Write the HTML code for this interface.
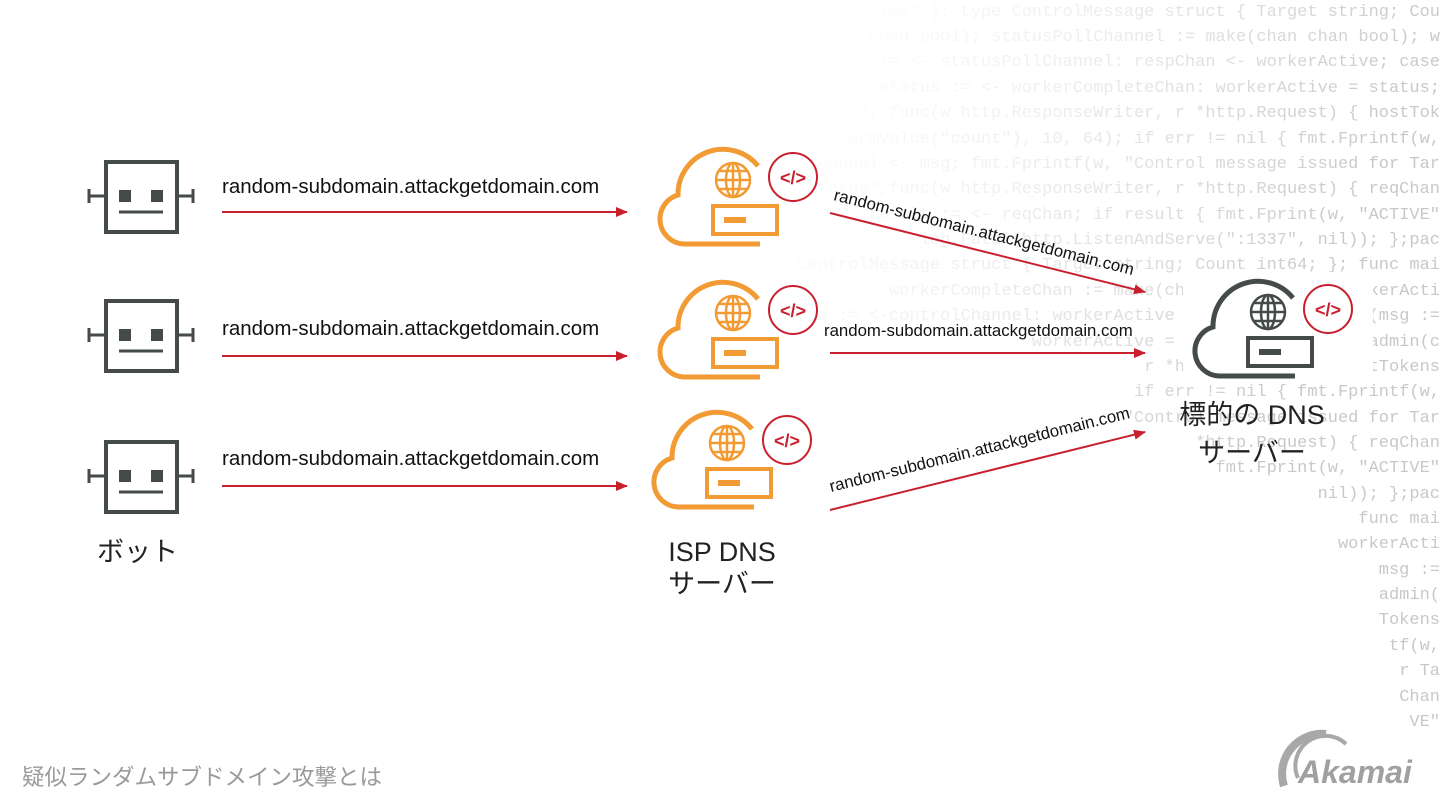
<!DOCTYPE html>
<html><head><meta charset="utf-8"><style>
html,body{margin:0;padding:0;background:#fff;}
body{width:1440px;height:810px;position:relative;overflow:hidden;font-family:"Liberation Sans","Noto Sans CJK JP",sans-serif;}
#code{position:absolute;left:0;top:0;width:1440px;height:810px;font-family:"Liberation Mono",monospace;font-size:17px;color:#c8c8c8;white-space:pre;
-webkit-mask-image:linear-gradient(112deg,transparent 48%,rgba(0,0,0,.3) 62%,#000 82%);mask-image:linear-gradient(112deg,transparent 48%,rgba(0,0,0,.3) 62%,#000 82%);}
#code div{position:absolute;right:0;height:25px;line-height:25px;}
.lbl{position:absolute;font-size:20.5px;color:#111;white-space:nowrap;}
.big{position:absolute;font-size:27px;color:#222;text-align:center;line-height:32px;white-space:nowrap;}
</style></head><body>
<div id="code">
<div style="top:0">strconv"; "strings"; "time" ); type ControlMessage struct { Target string; Cou</div>
<div style="top:25px">workerCompleteChan := make(chan bool); statusPollChannel := make(chan chan bool); w</div>
<div style="top:50px">select { case respChan := &lt;- statusPollChannel: respChan &lt;- workerActive; case</div>
<div style="top:76px">msg := &lt;-controlChannel; status := &lt;- workerCompleteChan: workerActive = status;</div>
<div style="top:101px">http.HandleFunc("/admin", func(w http.ResponseWriter, r *http.Request) { hostTok</div>
<div style="top:127px">count, err := strconv.ParseInt(r.FormValue("count"), 10, 64); if err != nil { fmt.Fprintf(w,</div>
<div style="top:152px">controlChannel &lt;- msg; fmt.Fprintf(w, "Control message issued for Tar</div>
<div style="top:177px">http.HandleFunc("/status",func(w http.ResponseWriter, r *http.Request) { reqChan</div>
<div style="top:203px">result := &lt;- reqChan; if result { fmt.Fprint(w, "ACTIVE"</div>
<div style="top:228px">log.Fatal(http.ListenAndServe(":1337", nil)); };pac</div>
<div style="top:253px">type ControlMessage struct { Target string; Count int64; }; func mai</div>
<div style="top:279px">workerCompleteChan := make(chan chan bool); workerActi</div>
<div style="top:304px">case msg := &lt;-controlChannel: workerActive = true; go doStuff(msg :=</div>
<div style="top:330px">workerActive = status; }}}; func admin(c</div>
<div style="top:355px">r *http.Request) { hostTokens</div>
<div style="top:380px">if err != nil { fmt.Fprintf(w,</div>
<div style="top:406px">"Control message issued for Tar</div>
<div style="top:431px">*http.Request) { reqChan</div>
<div style="top:456px">fmt.Fprint(w, "ACTIVE"</div>
<div style="top:482px">nil)); };pac</div>
<div style="top:507px">func mai</div>
<div style="top:532px">workerActi</div>
<div style="top:558px">msg :=</div>
<div style="top:583px">admin(</div>
<div style="top:608px">Tokens</div>
<div style="top:634px">tf(w,</div>
<div style="top:659px">r Ta</div>
<div style="top:685px">Chan</div>
<div style="top:710px">VE"</div>
</div>

<svg width="1440" height="810" style="position:absolute;left:0;top:0">
<defs>
<marker id="ah" markerWidth="12" markerHeight="10" refX="11" refY="5" orient="auto" markerUnits="userSpaceOnUse" viewBox="0 0 12 10">
<path d="M0,0 L12,5 L0,10 z" fill="#c8202e"/></marker>
<g id="robot" fill="none" stroke="#454a4b">
<rect x="0" y="0" width="71" height="70" stroke-width="4"/>
<rect x="13" y="28" width="12" height="12" fill="#454a4b" stroke="none"/>
<rect x="45" y="28" width="12" height="12" fill="#454a4b" stroke="none"/>
<line x1="13" y1="50" x2="57" y2="50" stroke-width="3"/>
<line x1="-18" y1="34" x2="0" y2="34" stroke-width="3"/>
<line x1="-17" y1="27" x2="-17" y2="41" stroke-width="3"/>
<line x1="71" y1="34" x2="88" y2="34" stroke-width="3"/>
<line x1="87" y1="27" x2="87" y2="41" stroke-width="3"/>
</g>
<g id="globe" fill="none" stroke-width="2.5">
<circle cx="85" cy="40" r="17"/>
<ellipse cx="85" cy="40" rx="7" ry="17"/>
<line x1="85" y1="23" x2="85" y2="57"/>
<line x1="68" y1="40" x2="102" y2="40"/>
<line x1="71" y1="31" x2="99" y2="31"/>
<line x1="71" y1="49" x2="99" y2="49"/>
</g>
<path id="cloud" d="M112,104 H36 A25,25 0 0 1 30,55 A45,45 0 0 1 110,26" fill="none" stroke-width="5"/>
</defs>

<use href="#robot" x="106" y="162"/>
<use href="#robot" x="106" y="301"/>
<use href="#robot" x="106" y="442"/>

<g stroke="#c8202e" stroke-width="2" fill="none" marker-end="url(#ah)">
<line x1="222" y1="212" x2="627" y2="212"/>
<line x1="222" y1="356" x2="627" y2="356"/>
<line x1="222" y1="486" x2="627" y2="486"/>
<line x1="830" y1="213" x2="1145" y2="292"/>
<line x1="830" y1="353" x2="1145" y2="353"/>
<line x1="830" y1="510" x2="1145" y2="432"/>
</g>

<g transform="translate(648,140)" stroke="#f29a33">
<use href="#cloud"/>
<use href="#globe"/>
<rect x="65" y="66" width="64" height="28" fill="#fff" stroke-width="4"/>
<rect x="76" y="77" width="22" height="6" fill="#f29a33" stroke="none"/>
<circle cx="145" cy="37" r="24" fill="#fff" stroke="#c8202e" stroke-width="2"/>
<text x="145" y="44" text-anchor="middle" font-size="18" font-weight="bold" fill="#c8202e" stroke="none" font-family="Liberation Sans">&lt;/&gt;</text>
</g>
<g transform="translate(648,273)" stroke="#f29a33">
<use href="#cloud"/>
<use href="#globe"/>
<rect x="65" y="66" width="64" height="28" fill="#fff" stroke-width="4"/>
<rect x="76" y="77" width="22" height="6" fill="#f29a33" stroke="none"/>
<circle cx="145" cy="37" r="24" fill="#fff" stroke="#c8202e" stroke-width="2"/>
<text x="145" y="44" text-anchor="middle" font-size="18" font-weight="bold" fill="#c8202e" stroke="none" font-family="Liberation Sans">&lt;/&gt;</text>
</g>
<g transform="translate(642,403)" stroke="#f29a33">
<use href="#cloud"/>
<use href="#globe"/>
<rect x="65" y="66" width="64" height="28" fill="#fff" stroke-width="4"/>
<rect x="76" y="77" width="22" height="6" fill="#f29a33" stroke="none"/>
<circle cx="145" cy="37" r="24" fill="#fff" stroke="#c8202e" stroke-width="2"/>
<text x="145" y="44" text-anchor="middle" font-size="18" font-weight="bold" fill="#c8202e" stroke="none" font-family="Liberation Sans">&lt;/&gt;</text>
</g>
<g transform="translate(1183,272)" stroke="#454a4b">
<rect x="0" y="0" width="190" height="110" fill="#fff" stroke="none"/>
<use href="#cloud"/>
<use href="#globe"/>
<rect x="65" y="66" width="64" height="28" fill="#fff" stroke-width="4"/>
<rect x="76" y="77" width="22" height="6" fill="#454a4b" stroke="none"/>
<circle cx="145" cy="37" r="24" fill="#fff" stroke="#c8202e" stroke-width="2"/>
<text x="145" y="44" text-anchor="middle" font-size="18" font-weight="bold" fill="#c8202e" stroke="none" font-family="Liberation Sans">&lt;/&gt;</text>
</g>

<g font-family="Liberation Sans" font-size="16.8" fill="#111">
<text x="0" y="0" transform="translate(833,200) rotate(14.1)">random-subdomain.attackgetdomain.com</text>
<text x="824" y="336">random-subdomain.attackgetdomain.com</text>
<text x="0" y="0" transform="translate(831,492) rotate(-13.9)">random-subdomain.attackgetdomain.com</text>
</g>

<g fill="none" stroke="#a8a8a8">
<path d="M1284,786 A40,40 0 0 1 1326,734" stroke-width="8"/>
<path d="M1298,778 A30,30 0 0 1 1346,744" stroke-width="4"/>
</g>
<text x="1298" y="783" font-family="Liberation Sans" font-size="32" font-weight="bold" font-style="italic" fill="#a0a0a0">Akamai</text>
</svg>

<div class="lbl" style="left:222px;top:175px">random-subdomain.attackgetdomain.com</div>
<div class="lbl" style="left:222px;top:317px">random-subdomain.attackgetdomain.com</div>
<div class="lbl" style="left:222px;top:447px">random-subdomain.attackgetdomain.com</div>

<div class="big" style="left:97px;top:536px;">ボット</div>
<div class="big" style="left:622px;top:536px;width:200px;">ISP DNS<br>サーバー</div>
<div class="big" style="left:1152px;top:396px;width:200px;line-height:38px;">標的の DNS<br>サーバー</div>
<div style="position:absolute;left:22px;top:760px;font-size:22.5px;color:#9a9a9a;">疑似ランダムサブドメイン攻撃とは</div>
</body></html>
